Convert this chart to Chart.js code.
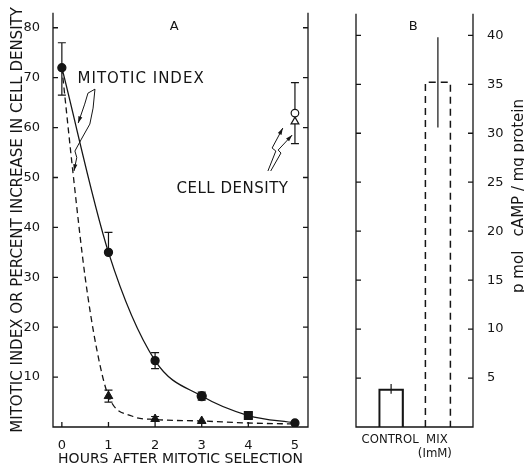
<!DOCTYPE html>
<html>
<head>
<meta charset="utf-8">
<script src="https://cdn.jsdelivr.net/npm/chart.js@4.4.1/dist/chart.umd.min.js"></script>
<style>
  body { margin: 0; background: #fff; }
  #chartA { position: absolute; left: 0; top: 0; }
  #chartB { position: absolute; left: 330px; top: 0; }
</style>
</head>
<body>
<canvas id="chartA" width="320" height="470"></canvas>
<canvas id="chartB" width="194" height="470"></canvas>
<script>
// ---- panel A: mitotic index after selection ----
const hours = [0, 1, 2, 3, 4, 5];
const mitoticIndex = [72, 35, 13.3, 6.2, 2.3, 0.8];
const mitoticErrUp = [5, 4, 1.6, 0.8, 0.6, 0];
const mitoticErrDown = [5.5, 0, 1.6, 0.8, 0.6, 0];
const mitoticMarks = ['circle', 'circle', 'circle', 'circle', 'rect', 'circle'];
// dashed curve
const dashHours = [0, 0.25, 0.5, 0.75, 1, 1.5, 2, 3, 4, 5];
const dashValues = [72, 50, 30, 15.5, 6.2, 2.2, 1.5, 1.2, 0.8, 0.6];
const triHours = [1, 2, 3];
const triValues = [6.2, 1.6, 1.2];
const triErr = [1.2, 0.5, 0];
// cell density at 5 h
const densityHours = [5];
const densityCircle = [62.9];
const densityCircleErr = [6.1];
const densityTriangle = [61.2];
const yTicksA = [10, 20, 30, 40, 50, 60, 70, 80];

// ---- panel B: cAMP ----
const groups = ['CONTROL', 'MIX'];
const groupUnits = ['', '(ImM)'];
const camp = [3.9, 35.2];
const campErr = [0.5, 4.6];
const yTicksB = [5, 10, 15, 20, 25, 30, 35, 40];

const ink = '#151515';
const fam = "'DejaVu Sans', sans-serif";
const famC = "'DejaVu Sans Condensed', 'DejaVu Sans', sans-serif";
Chart.defaults.font.family = fam;
Chart.defaults.color = ink;

function pts(xs, ys) { return xs.map((x, i) => ({ x: x, y: ys[i] })); }

// axes frame with inward ticks
const frame = {
  id: 'frame',
  beforeDatasetsDraw(chart, args, o) {
    const { ctx, chartArea: a } = chart;
    const ys = chart.scales.y, xs = chart.scales.x;
    ctx.save();
    ctx.strokeStyle = ink;
    ctx.lineWidth = 1.3;
    ctx.beginPath();
    ctx.moveTo(a.left, a.top); ctx.lineTo(a.left, a.bottom);
    ctx.lineTo(a.right, a.bottom); ctx.lineTo(a.right, a.top);
    ys.ticks.forEach(t => {
      const y = ys.getPixelForValue(t.value);
      ctx.moveTo(a.left, y); ctx.lineTo(a.left + 5, y);
      ctx.moveTo(a.right, y); ctx.lineTo(a.right - 5, y);
    });
    if (o.xTicks) {
      xs.ticks.forEach(t => {
        const x = xs.getPixelForValue(t.value);
        ctx.moveTo(x, a.bottom); ctx.lineTo(x, a.bottom - 5);
      });
    }
    ctx.stroke();
    ctx.restore();
  }
};

// error bars from errUp / errDown on the dataset
function drawErrors(chart) {
  const ctx = chart.ctx;
  chart.data.datasets.forEach((ds, i) => {
    if (!ds.errUp) return;
    const meta = chart.getDatasetMeta(i);
    const ys = chart.scales[meta.yAxisID];
    ctx.save();
    ctx.strokeStyle = ink;
    ctx.lineWidth = 1.2;
    ctx.beginPath();
    meta.data.forEach((el, j) => {
      const v = ds.data[j].y;
      const up = ds.errUp[j], dn = (ds.errDown || ds.errUp)[j];
      if (!up && !dn) return;
      const y1 = ys.getPixelForValue(v + up), y2 = ys.getPixelForValue(v - dn);
      const c = ds.cap || 0;
      ctx.moveTo(el.x, y1); ctx.lineTo(el.x, y2);
      if (c && up) { ctx.moveTo(el.x - c, y1); ctx.lineTo(el.x + c, y1); }
      if (c && dn) { ctx.moveTo(el.x - c, y2); ctx.lineTo(el.x + c, y2); }
    });
    ctx.stroke();
    ctx.restore();
  });
}
const errorBars = {
  id: 'errorBars',
  beforeDatasetsDraw(chart, args, o) { if (o.under) drawErrors(chart); },
  afterDatasetsDraw(chart, args, o) { if (!o.under) drawErrors(chart); }
};

// text labels and lightning arrows, placed in data units
const notes = {
  id: 'notes',
  afterDraw(chart, args, o) {
    const { ctx } = chart;
    const xs = chart.scales.x, ys = chart.scales.y;
    const P = p => [xs.getPixelForValue(p[0]), ys.getPixelForValue(p[1])];
    ctx.save();
    ctx.fillStyle = ink;
    ctx.strokeStyle = ink;
    ctx.textAlign = 'center';
    ctx.textBaseline = 'middle';
    (o.texts || []).forEach(t => {
      ctx.font = t.font;
      ctx.letterSpacing = t.spacing || '0px';
      const [x, y] = P(t.at);
      ctx.fillText(t.text, x, y);
    });
    ctx.letterSpacing = '0px';
    // category labels under the bars
    if (o.groupLabels) {
      ctx.font = o.groupLabels.font;
      const yb = chart.chartArea.bottom;
      groups.forEach((g, i) => {
        const x = xs.getPixelForValue(i + 1);
        ctx.fillText(g, x - 1, yb + 13);
        if (groupUnits[i]) ctx.fillText(groupUnits[i], x - 3, yb + 27);
      });
    }
    ctx.lineWidth = 1;
    (o.bolts || []).forEach(b => {
      const q = b.map(P);
      ctx.beginPath();
      ctx.moveTo(q[0][0], q[0][1]);
      q.slice(1).forEach(p => ctx.lineTo(p[0], p[1]));
      ctx.stroke();
      const [tx, ty] = q[q.length - 1], [px, py] = q[q.length - 2];
      const ang = Math.atan2(ty - py, tx - px);
      ctx.beginPath();
      ctx.moveTo(tx, ty);
      ctx.lineTo(tx - 7 * Math.cos(ang - 0.3), ty - 7 * Math.sin(ang - 0.3));
      ctx.lineTo(tx - 7 * Math.cos(ang + 0.3), ty - 7 * Math.sin(ang + 0.3));
      ctx.closePath();
      ctx.fill();
    });
    if (o.sideTitle) {
      const s = o.sideTitle;
      ctx.font = s.font;
      ctx.translate(s.x, s.y);
      ctx.rotate(-Math.PI / 2);
      ctx.fillText(s.text, 0, 0);
    }
    ctx.restore();
  }
};

// dashed outline for the MIX bar
const dashedBar = {
  id: 'dashedBar',
  afterDatasetsDraw(chart, args, o) {
    const { ctx } = chart;
    const el = chart.getDatasetMeta(0).data[o.index];
    const w = el.width / 2;
    ctx.save();
    ctx.strokeStyle = ink;
    ctx.lineWidth = 1.5;
    ctx.setLineDash([7, 5]);
    ctx.beginPath();
    ctx.moveTo(el.x - w, el.base); ctx.lineTo(el.x - w, el.y);
    ctx.lineTo(el.x + w, el.y); ctx.lineTo(el.x + w, el.base);
    ctx.stroke();
    ctx.restore();
  }
};

new Chart(document.getElementById('chartA'), {
  type: 'line',
  data: {
    datasets: [
      {
        data: pts(hours, mitoticIndex),
        borderColor: ink, borderWidth: 1.3,
        cubicInterpolationMode: 'monotone',
        pointStyle: mitoticMarks,
        pointRadius: [4, 4, 4, 4.5, 5.5, 4],
        pointBackgroundColor: ink, pointBorderColor: ink,
        errUp: mitoticErrUp, errDown: mitoticErrDown, cap: 4
      },
      {
        data: pts(dashHours, dashValues),
        borderColor: ink, borderWidth: 1.3, borderDash: [6, 4],
        cubicInterpolationMode: 'monotone', pointRadius: 0
      },
      {
        data: pts(triHours, triValues),
        showLine: false, pointStyle: 'triangle', pointRadius: 5,
        pointBackgroundColor: ink, pointBorderColor: ink,
        errUp: triErr, cap: 4
      },
      {
        data: pts(densityHours, densityCircle),
        showLine: false, pointStyle: 'circle', pointRadius: 3.8,
        pointBackgroundColor: '#fff', pointBorderColor: ink, pointBorderWidth: 1.2,
        errUp: densityCircleErr, cap: 4
      },
      {
        data: pts(densityHours, densityTriangle),
        showLine: false, pointStyle: 'triangle', pointRadius: 4.5,
        pointBackgroundColor: '#fff', pointBorderColor: ink, pointBorderWidth: 1.2
      }
    ]
  },
  options: {
    responsive: false,
    animation: false,
    layout: { padding: { top: 11, right: 12, left: 0, bottom: 0 } },
    scales: {
      x: {
        type: 'linear', min: -0.19, max: 5.28,
        afterFit: s => { s.height = 43; },
        afterBuildTicks: s => { s.ticks = hours.map(v => ({ value: v })); },
        grid: { display: false }, border: { display: false },
        ticks: { padding: 3, autoSkip: false, maxRotation: 0, font: { size: 13 }, color: ink },
        title: { display: true, text: 'HOURS AFTER MITOTIC SELECTION', color: ink,
                 font: { size: 14 }, padding: { top: 0, bottom: 2 } }
      },
      y: {
        min: 0, max: 83,
        afterFit: s => { s.width = 53; },
        afterBuildTicks: s => { s.ticks = yTicksA.map(v => ({ value: v })); },
        grid: { display: false }, border: { display: false },
        ticks: { padding: 5, font: { size: 13 }, color: ink },
        title: { display: true, text: 'MITOTIC INDEX OR PERCENT INCREASE IN CELL DENSITY', color: ink,
                 font: { size: 15 }, padding: { top: 9, bottom: 0 } }
      }
    },
    plugins: {
      legend: { display: false },
      tooltip: { enabled: false },
      frame: { xTicks: true },
      errorBars: { under: true },
      notes: {
        texts: [
          { text: 'A', at: [2.41, 80.2], font: '13px ' + fam },
          { text: 'MITOTIC INDEX', at: [1.70, 69.8], font: '15px ' + fam, spacing: '1px' },
          { text: 'CELL DENSITY', at: [3.66, 47.7], font: '15px ' + fam, spacing: '0.5px' }
        ],
        bolts: [
          [[0.71, 67.7], [0.56, 66.9], [0.49, 64.7], [0.35, 60.9]],
          [[0.71, 67.7], [0.67, 63.9], [0.60, 60.7], [0.42, 57.7], [0.28, 55.3], [0.32, 54.0], [0.26, 51.3]],
          [[4.42, 51.3], [4.59, 55.3], [4.51, 55.9], [4.74, 59.9]],
          [[4.48, 51.3], [4.70, 54.9], [4.64, 55.5], [4.94, 58.5]]
        ]
      }
    }
  },
  plugins: [frame, errorBars, notes]
});

new Chart(document.getElementById('chartB'), {
  type: 'bar',
  data: {
    datasets: [{
      data: pts(groups.map((g, i) => i + 1), camp),
      backgroundColor: 'rgba(0,0,0,0)',
      borderColor: ink,
      borderWidth: [1.5, 0],
      barThickness: 25,
      errUp: campErr, cap: 0
    }]
  },
  options: {
    responsive: false,
    animation: false,
    layout: { padding: { top: 11, left: 26, right: 0, bottom: 0 } },
    scales: {
      x: {
        type: 'linear', min: 0.25, max: 2.75, offset: false,
        afterFit: s => { s.height = 43; },
        grid: { display: false, offset: false }, border: { display: false },
        ticks: { display: false }
      },
      y: {
        position: 'right', min: 0, max: 42.2,
        afterFit: s => { s.width = 51; },
        afterBuildTicks: s => { s.ticks = yTicksB.map(v => ({ value: v })); },
        grid: { display: false }, border: { display: false },
        ticks: { padding: 6, font: { size: 13 }, color: ink }
      }
    },
    plugins: {
      legend: { display: false },
      tooltip: { enabled: false },
      frame: { xTicks: false },
      errorBars: { under: true },
      dashedBar: { index: 1 },
      notes: {
        texts: [{ text: 'B', at: [1.47, 40.9], font: '13px ' + fam }],
        groupLabels: { font: '13px ' + famC },
        sideTitle: { text: 'p mol   cAMP / mg protein', x: 189, y: 196, font: '15px ' + fam }
      }
    }
  },
  plugins: [frame, errorBars, dashedBar, notes]
});
</script>
</body>
</html>
